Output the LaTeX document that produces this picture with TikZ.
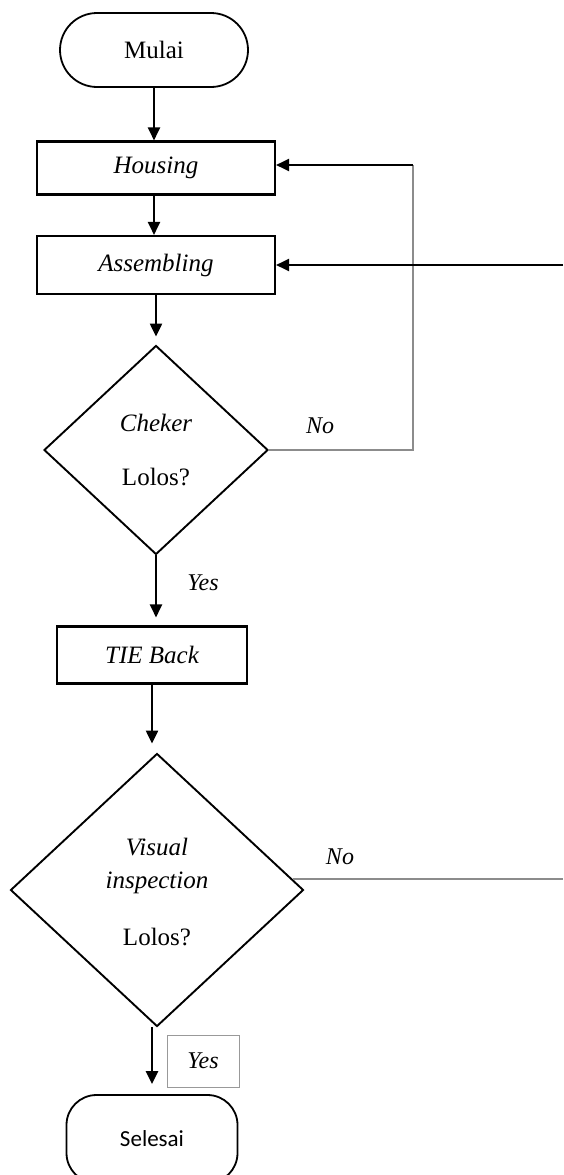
\documentclass[tikz,border=0pt]{standalone}
\usepackage{fontspec}
\setmainfont{Liberation Serif}
\newfontfamily\carl{Carlito}
\usetikzlibrary{shapes.geometric,arrows.meta,calc}
\begin{document}
\begin{tikzpicture}[x=1pt,y=-1pt,
  base/.style={font=\fontsize{25}{30}\selectfont},
  term/.style={base,draw,line width=1.8pt,rectangle,inner sep=0pt},
  proc/.style={base,draw,line width=2.1pt,rectangle,inner sep=0pt},
  dec/.style={draw,line width=1.9pt,diamond,inner sep=0pt},
  txt/.style={base,inner sep=0pt},
  lbl/.style={base,font=\fontsize{24}{28}\selectfont\itshape,inner sep=0pt},
  arr/.style={line width=2.3pt,-{Triangle[length=13pt,width=12pt]}},
  thin/.style={line width=1.5pt,draw=black!45}]
\fill[white] (0,0) rectangle (563,1175);
\useasboundingbox (0,0) rectangle (563,1175);
\clip (0,0) rectangle (563,1175);

\node[term,rounded corners=37pt,minimum width=188pt,minimum height=74pt] (mulai) at (154,50) {Mulai};
\node[proc,minimum width=238pt,minimum height=53pt] (housing) at (156,168) {\itshape Housing};
\node[proc,minimum width=238pt,minimum height=58pt] (assembling) at (156,265) {\itshape Assembling};
\node[dec,minimum width=224pt,minimum height=209pt] (d1) at (156,450) {};
\node[txt] (d1a) at (156,423) {\itshape Cheker};
\node[txt] (d1b) at (156,477) {Lolos?};
\node[proc,minimum width=190pt,minimum height=57pt] (tie) at (152,655) {\itshape TIE Back};
\node[dec,minimum width=293pt,minimum height=273pt] (d2) at (157,890) {};
\node[txt] (d2a) at (157,847) {\itshape Visual};
\node[txt] (d2b) at (157,883) {\itshape inspection};
\node[txt] (d2c) at (157,937) {Lolos?};
\node[lbl,draw=black!40,line width=1pt,minimum width=72pt,minimum height=52pt] (yesbox) at (203,1061) {Yes};
\node[term,rounded corners=30pt,minimum width=171pt,minimum height=88pt,font=\carl\fontsize{23}{28}\selectfont] (selesai) at (152,1139) {Selesai};

\node[lbl] (no1) at (320,426) {No};
\node[lbl] (yes1) at (203,583) {Yes};
\node[lbl] (no2) at (340,857) {No};

\coordinate (loopc) at (413,165);
\coordinate (re1) at (563,265);
\coordinate (re2) at (563,879);
\coordinate (d2e) at ($(d2.east)!0.08!(d2.north)$);

\draw[arr] (mulai.south) -- (mulai.south |- housing.north);
\draw[arr] (housing.south -| mulai.south) -- (mulai.south |- assembling.north);
\draw[arr,shorten >=8pt] (assembling.south) -- (d1.north);
\draw[arr,shorten >=8pt] (d1.south) -- (d1.south |- tie.north);
\draw[arr,shorten >=9pt] (tie.south) -- (tie.south |- d2.north);
\draw[arr,shorten >=10pt] (d2.south -| tie.south) -- (tie.south |- selesai.north);

\draw[thin] (d1.east) -- (d1.east -| loopc) -- (loopc);
\draw[arr] (loopc) -- (housing.east |- loopc);
\draw[arr] (re1) -- (assembling.east);
\draw[thin] (d2e) -- (d2e -| re2);
\end{tikzpicture}
\end{document}
